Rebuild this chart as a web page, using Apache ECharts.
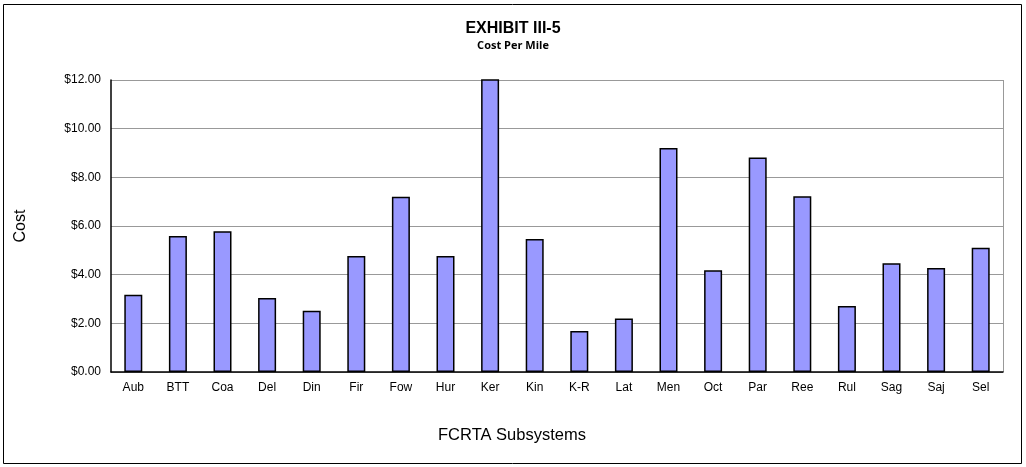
<!DOCTYPE html>
<html><head><meta charset="utf-8">
<script src="https://cdn.jsdelivr.net/npm/echarts@6/dist/echarts.min.js"></script>
<style>html,body{margin:0;padding:0;background:#fff}#c{width:1026px;height:467px}</style>
</head><body><div id="c"></div>
<script>
const categories = ["Aub","BTT","Coa","Del","Din","Fir","Fow","Hur","Ker","Kin","K-R","Lat","Men","Oct","Par","Ree","Rul","Sag","Saj","Sel"];
const costPerMile = [3.17,5.59,5.78,3.04,2.52,4.77,7.20,4.77,12.3,5.47,1.68,2.20,9.21,4.18,8.81,7.22,2.71,4.47,4.27,5.11];
const yTicks = {min:0, max:12, interval:2};

const chart = echarts.init(document.getElementById('c'), null, {renderer:'canvas'});
chart.setOption({
  animation:false,
  backgroundColor:'#fff',
  title:{
    text:'EXHIBIT III-5', subtext:'Cost Per Mile', left:'center', top:16, itemGap:3,
    textStyle:{fontFamily:'Liberation Sans', fontWeight:'bold', fontSize:16, color:'#000'},
    subtextStyle:{fontFamily:'Open Sans', fontWeight:'bold', fontSize:11, color:'#000'}
  },
  graphic:[{type:'rect', shape:{x:3.5,y:4.5,width:1018,height:459}, style:{fill:'none', stroke:'#000', lineWidth:1}, silent:true},
           {type:'line', shape:{x1:111,y1:80.5,x2:1003,y2:80.5}, style:{stroke:'#999',lineWidth:1}},
           {type:'line', shape:{x1:1003.5,y1:80,x2:1003.5,y2:372}, style:{stroke:'#999',lineWidth:1}}],
  grid:{left:111, right:23, top:80, bottom:95, containLabel:false},
  xAxis:{
    type:'category', data:categories,
    name:'FCRTA Subsystems', nameLocation:'middle', nameGap:55,
    nameTextStyle:{fontFamily:'Liberation Sans', fontSize:16.5, color:'#000', padding:[0,90,0,0]},
    axisLine:{lineStyle:{color:'#000', width:1.5}},
    axisTick:{show:false},
    axisLabel:{fontFamily:'Liberation Sans', fontSize:12, color:'#000', margin:10, interval:0}
  },
  yAxis:{
    type:'value', min:yTicks.min, max:yTicks.max, interval:yTicks.interval,
    name:'Cost', nameLocation:'middle', nameGap:82, nameRotate:90,
    nameTextStyle:{fontFamily:'Liberation Sans', fontSize:16, color:'#000'},
    axisLine:{show:true, lineStyle:{color:'#000', width:1.5}},
    axisTick:{show:false},
    splitLine:{lineStyle:{color:'#999', width:1}},
    axisLabel:{fontFamily:'Liberation Sans', fontSize:12, color:'#000', margin:10,
      formatter:v=>'$'+v.toFixed(2)}
  },
  series:[{
    type:'bar', data:costPerMile, barWidth:18, clip:true,
    itemStyle:{color:'#9999ff', borderColor:'#000', borderWidth:1.5}
  }]
});
</script></body></html>
